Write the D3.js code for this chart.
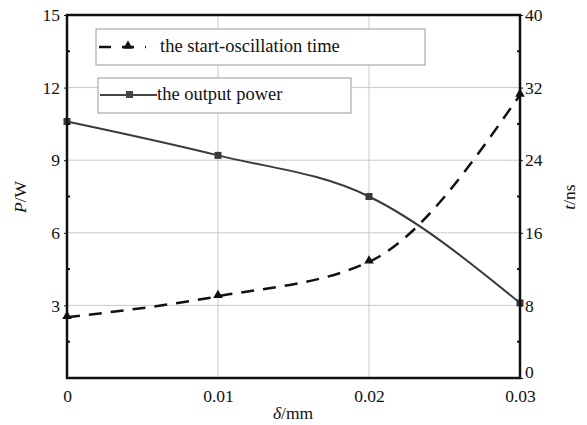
<!DOCTYPE html>
<html><head><meta charset="utf-8">
<script src="https://cdn.jsdelivr.net/npm/d3@7"></script>
<style>body{margin:0;background:#fff}</style>
</head><body>
<script>
const delta = [0, 0.01, 0.02, 0.03];
const power = [10.6, 9.2, 7.5, 3.1];
const startTime = [6.7, 9.0, 12.8, 31.2];
const xTicks = [0, 0.01, 0.02, 0.03];
const leftTicks = [3, 6, 9, 12, 15];
const rightTicks = [0, 8, 16, 24, 32, 40];
const seriesNames = ["the start-oscillation time", "the output power"];

const W = 587, H = 425;
const m = {l: 67, r: 520, t: 15, b: 378};
const svg = d3.select("body").append("svg").attr("width", W).attr("height", H);
const font = '"Liberation Serif", "Times New Roman", Tinos, serif';
const fs = 17.5, lfs = 18.5;

const x = d3.scaleLinear().domain([0, 0.03]).range([m.l, m.r]);
const yL = d3.scaleLinear().domain([0, 15]).range([m.b, m.t]);
const yR = d3.scaleLinear().domain([0, 40]).range([m.b, m.t]);

// grid
const g = svg.append("g");
g.selectAll(".vg").data(xTicks.slice(1, -1)).enter().append("line")
  .attr("x1", d => x(d)).attr("x2", d => x(d)).attr("y1", m.t).attr("y2", m.b)
  .attr("stroke", "#c8c8c8").attr("stroke-width", 1);
g.selectAll(".hg").data(leftTicks.slice(0, -1)).enter().append("line")
  .attr("x1", m.l).attr("x2", m.r).attr("y1", d => yL(d)).attr("y2", d => yL(d))
  .attr("stroke", "#c8c8c8").attr("stroke-width", 1);

// legend boxes
const lg = svg.append("g");
lg.append("rect").attr("x", 96).attr("y", 29).attr("width", 329).attr("height", 36)
  .attr("fill", "#fff").attr("stroke", "#999").attr("stroke-width", 1);
lg.append("rect").attr("x", 98).attr("y", 78).attr("width", 253).attr("height", 35)
  .attr("fill", "#fff").attr("stroke", "#999").attr("stroke-width", 1);
lg.append("line").attr("x1", 99).attr("x2", 146).attr("y1", 47).attr("y2", 47)
  .attr("stroke", "#111").attr("stroke-width", 2.5).attr("stroke-dasharray", "12,11");
lg.append("path").attr("d", d3.symbol(d3.symbolTriangle, 40)())
  .attr("transform", "translate(128,46)").attr("fill", "#111");
lg.append("text").attr("x", 160).attr("y", 52).text(seriesNames[0])
  .style("font-family", font).style("font-size", lfs + "px").attr("fill", "#111");
lg.append("line").attr("x1", 100).attr("x2", 157).attr("y1", 95).attr("y2", 95)
  .attr("stroke", "#444").attr("stroke-width", 2);
lg.append("rect").attr("x", 126).attr("y", 91).attr("width", 7).attr("height", 7).attr("fill", "#444");
lg.append("text").attr("x", 157).attr("y", 100).text(seriesNames[1])
  .style("font-family", font).style("font-size", lfs + "px").attr("fill", "#111");

// lines
const dataP = delta.map((d, i) => [d, power[i]]);
const dataT = delta.map((d, i) => [d, startTime[i]]);
const lineP = d3.line().x(d => x(d[0])).y(d => yL(d[1])).curve(d3.curveMonotoneX);
const lineT = d3.line().x(d => x(d[0])).y(d => yR(d[1])).curve(d3.curveMonotoneX);
svg.append("path").attr("d", lineP(dataP)).attr("fill", "none").attr("stroke", "#3a3a3a").attr("stroke-width", 2);
svg.append("path").attr("d", lineT(dataT)).attr("fill", "none").attr("stroke", "#111")
  .attr("stroke-width", 2.5).attr("stroke-dasharray", "13,9");
svg.selectAll(".sq").data(dataP).enter().append("rect")
  .attr("x", d => x(d[0]) - 3.5).attr("y", d => yL(d[1]) - 3.5).attr("width", 7).attr("height", 7).attr("fill", "#3a3a3a");
svg.selectAll(".tri").data(dataT).enter().append("path")
  .attr("d", d3.symbol(d3.symbolTriangle, 40)())
  .attr("transform", d => `translate(${x(d[0])},${yR(d[1]) - 1})`).attr("fill", "#111");

// axes
const axisStyle = sel => {
  sel.attr("font-family", null).attr("font-size", null);
  sel.select(".domain").remove();
  sel.selectAll("text").style("font-family", font).style("font-size", fs + "px").attr("fill", "#111");
  sel.selectAll("line").attr("stroke", "#111");
};
svg.append("g").attr("transform", `translate(0,${m.b})`)
  .call(d3.axisBottom(x).tickValues(xTicks).tickFormat(d => d === 0 ? "0" : d3.format(".2f")(d)).tickSize(0).tickPadding(12))
  .call(axisStyle);
svg.append("g").attr("transform", `translate(${m.l},0)`)
  .call(d3.axisLeft(yL).tickValues(leftTicks).tickSize(3).tickPadding(4))
  .call(axisStyle);
svg.append("g").attr("transform", `translate(${m.r},0)`)
  .call(d3.axisRight(yR).tickValues(rightTicks).tickSize(3).tickPadding(2))
  .call(axisStyle)
  .call(s => s.selectAll(".tick").filter(d => d === 0).select("text").attr("dy", "-0.05em"));
// minor ticks
const minL = [1.5, 4.5, 7.5, 10.5, 13.5];
const minR = [4, 12, 20, 28, 36];
svg.selectAll(".ml").data(minL).enter().append("line")
  .attr("x1", m.l).attr("x2", m.l + 3).attr("y1", d => yL(d)).attr("y2", d => yL(d)).attr("stroke", "#111").attr("stroke-width", 2);
svg.selectAll(".mr").data(minR).enter().append("line")
  .attr("x1", m.r).attr("x2", m.r - 3).attr("y1", d => yR(d)).attr("y2", d => yR(d)).attr("stroke", "#111").attr("stroke-width", 2);

// frame
svg.append("rect").attr("x", m.l).attr("y", m.t).attr("width", m.r - m.l).attr("height", m.b - m.t)
  .attr("fill", "none").attr("stroke", "#111").attr("stroke-width", 2.5);

// axis titles
svg.append("text").attr("transform", "translate(26,197) rotate(-90)").attr("text-anchor", "middle")
  .style("font-family", font).style("font-size", fs + "px").attr("fill", "#111")
  .html('<tspan font-style="italic">P</tspan>/W');
svg.append("text").attr("transform", "translate(575,197) rotate(-90)").attr("text-anchor", "middle")
  .style("font-family", font).style("font-size", fs + "px").attr("fill", "#111")
  .html('<tspan font-style="italic">t</tspan>/ns');
svg.append("text").attr("x", 293).attr("y", 419).attr("text-anchor", "middle")
  .style("font-family", font).style("font-size", fs + "px").attr("fill", "#111")
  .html('<tspan font-style="italic">δ</tspan>/mm');
</script>
</body></html>
